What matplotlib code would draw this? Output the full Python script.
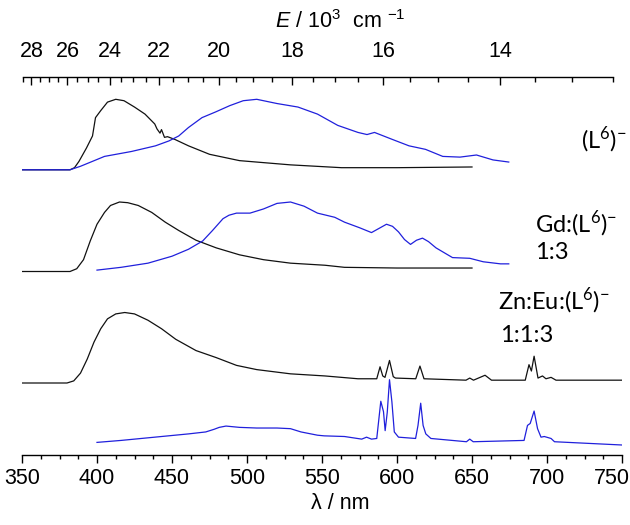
import matplotlib
matplotlib.use('Agg')
import matplotlib.pyplot as plt
import numpy as np

plt.rcParams['font.family'] = ['Liberation Sans', 'DejaVu Sans']
plt.rcParams['mathtext.fontset'] = 'custom'
plt.rcParams['mathtext.rm'] = 'Liberation Sans'
plt.rcParams['mathtext.it'] = 'Liberation Sans:italic'

# --- spectra (wavelength in nm, normalised intensity) ---
# (L6)- : black / blue
wl_l6_k = [350, 382, 385, 388, 393, 397, 399, 402.5, 407, 412.5, 418, 425, 432, 438.5,
           440, 442, 443, 445, 447, 452, 461, 475, 495, 529, 563, 600, 650]
in_l6_k = [0, 0, 0.03, 0.12, 0.31, 0.48, 0.74, 0.84, 0.96, 1.0, 0.98, 0.89, 0.79, 0.65,
           0.58, 0.52, 0.57, 0.46, 0.47, 0.43, 0.34, 0.22, 0.13, 0.07, 0.03, 0.03, 0.04]

wl_l6_b = [350, 382, 389, 405, 423, 439, 448, 454.5, 461, 470, 479, 488.5, 497.5,
           506.5, 520, 534, 547, 560.5, 574, 580, 585, 597, 608, 619, 630.5, 642,
           653, 664, 674.5]
in_l6_b = [0, 0, 0.05, 0.19, 0.26, 0.34, 0.41, 0.48, 0.60, 0.74, 0.82, 0.91, 0.98,
           1.0, 0.94, 0.89, 0.79, 0.63, 0.53, 0.50, 0.53, 0.43, 0.34, 0.29, 0.19,
           0.18, 0.21, 0.14, 0.11]

# Gd:(L6)- 1:3
wl_gd_k = [350, 382, 386.5, 391, 395.5, 400, 405, 409, 415, 420.5, 427.5, 436.5,
           445.5, 454.5, 466, 479.5, 495, 511, 529, 552, 565, 600, 650]
in_gd_k = [0, 0, 0.04, 0.17, 0.44, 0.68, 0.85, 0.95, 1.0, 0.99, 0.95, 0.85, 0.71,
           0.59, 0.45, 0.34, 0.24, 0.17, 0.12, 0.09, 0.06, 0.05, 0.05]

wl_gd_b = [400, 416, 434, 450, 461, 470.5, 477, 484, 488, 493, 502, 511, 520, 529, 538,
           547, 558.5, 565, 575, 583, 588, 593, 597, 601, 605, 609, 613, 617, 621, 626,
           637, 648.5, 657.5, 669, 674.5]
in_gd_b = [0.02, 0.06, 0.12, 0.22, 0.32, 0.44, 0.59, 0.76, 0.81, 0.84, 0.84, 0.90, 0.98,
           1.0, 0.94, 0.84, 0.78, 0.71, 0.63, 0.56, 0.62, 0.68, 0.65, 0.57, 0.46, 0.39,
           0.45, 0.48, 0.43, 0.34, 0.20, 0.19, 0.14, 0.11, 0.11]

# Zn:Eu:(L6)- 1:1:3
wl_zn_k = [350, 380, 384.5, 389, 393.5, 398, 402.5, 407, 412.5, 418.5, 425, 434,
           443, 452.5, 466, 479.5, 493, 506.5, 529, 552, 574, 586.5, 588.7, 590.5,
           592, 595, 597.5, 599, 612.5, 615.3, 618, 646, 648.5, 651, 658.7, 663,
           685.5, 688, 689.6, 691.4, 694, 697, 699.3, 702.7, 706, 750]
in_zn_k = [0, 0, 0.03, 0.14, 0.34, 0.58, 0.77, 0.91, 0.98, 1.0, 0.98, 0.89,
           0.77, 0.62, 0.46, 0.36, 0.25, 0.19, 0.13, 0.10, 0.06, 0.06, 0.23, 0.10,
           0.08, 0.32, 0.09, 0.07, 0.06, 0.24, 0.06, 0.04, 0.07, 0.04, 0.11, 0.04,
           0.04, 0.26, 0.17, 0.38, 0.07, 0.10, 0.06, 0.08, 0.04, 0.04]

wl_zn_b = [400, 416, 438.5, 447.5, 461, 472.5, 478, 481.5, 486, 495, 506.5, 520, 529,
           536, 547, 551.5, 565, 576.5, 579.7, 583, 586.5, 589.2, 591, 592.1, 593.5,
           595, 596.6, 598.2, 601, 612.4, 614, 615.8, 617.4, 619.2, 622.6, 646.3,
           648.5, 650.8, 684.7, 687, 688.8, 691.4, 693.7, 696, 698.2, 702.7, 705, 750]
in_zn_b = [0.04, 0.07, 0.12, 0.14, 0.17, 0.20, 0.24, 0.27, 0.29, 0.27, 0.26, 0.26, 0.25,
           0.20, 0.15, 0.14, 0.13, 0.09, 0.12, 0.09, 0.10, 0.67, 0.51, 0.22, 0.50,
           1.0, 0.66, 0.20, 0.12, 0.10, 0.30, 0.64, 0.30, 0.17, 0.10, 0.05,
           0.09, 0.05, 0.07, 0.30, 0.33, 0.52, 0.25, 0.12, 0.13, 0.10, 0.05, 0.0]

wl_ticks = [350, 400, 450, 500, 550, 600, 650, 700, 750]
e_major = [28, 26, 24, 22, 20, 18, 16, 14]
label_lines = [r'(L$^{\mathregular{6}}$)$^{\mathregular{-}}$',
               r'Gd:(L$^{\mathregular{6}}$)$^{\mathregular{-}}$', '1:3',
               r'Zn:Eu:(L$^{\mathregular{6}}$)$^{\mathregular{-}}$', '1:1:3']

black = '#111111'
blue = '#2020dc'

fig = plt.figure(figsize=(6.3, 5.25), dpi=100)
ax = fig.add_axes([22 / 630, 70 / 525, 600 / 630, 378 / 525])

# stacked traces: (x, y, baseline, scale, colour)
traces = [
    (wl_l6_k, in_l6_k, 285.2, 70.5, black),
    (wl_l6_b, in_l6_b, 285.2, 70.5, blue),
    (wl_gd_k, in_gd_k, 183.5, 69.5, black),
    (wl_gd_b, in_gd_b, 183.5, 69.5, blue),
    (wl_zn_k, in_zn_k, 72.0, 70.5, black),
    (wl_zn_b, in_zn_b, 10.0, 65.3, blue),
]
for x, y, base, sc, col in traces:
    ax.plot(x, base + sc * np.asarray(y), color=col, lw=0.9)

ax.set_xlim(350, 750)
ax.set_ylim(0, 378)
for s in ['top', 'left', 'right']:
    ax.spines[s].set_visible(False)
ax.spines['bottom'].set_linewidth(1.0)
ax.set_yticks([])
ax.set_xticks(wl_ticks)
# last label is drawn separately so it stays inside the picture
ax.set_xticklabels([str(w) for w in wl_ticks[:-1]] + [''])
ax.set_xticks(np.arange(350, 751, 12.5), minor=True)
ax.tick_params(axis='x', which='major', direction='out', length=6, width=1.0,
               labelsize=15.5, pad=3)
ax.tick_params(axis='x', which='minor', direction='out', length=3, width=1.0)
ax.annotate(str(wl_ticks[-1]), xy=(1, 0), xycoords='axes fraction',
            xytext=(5.5, -9), textcoords='offset points', ha='right', va='top',
            fontsize=15.5)
ax.set_xlabel('λ / nm', fontsize=15.5)
ax.xaxis.set_label_coords(0.53, -0.1)

# energy axis on top
top = ax.twiny()
top.set_xlim(350, 807)
top.set_xticks([1e4 / e for e in e_major])
top.set_xticklabels([str(e) for e in e_major])
top.set_xticks([1e4 / e for e in np.arange(28.5, 12.4, -0.5)], minor=True)
for s in ['bottom', 'left', 'right']:
    top.spines[s].set_visible(False)
top.spines['top'].set_bounds(1e4 / 28.5, 1e4 / 12.5)
top.spines['top'].set_linewidth(1.0)
top.tick_params(axis='x', which='major', direction='in', length=6, width=1.0,
                labelsize=15.5, pad=11)
top.tick_params(axis='x', which='minor', direction='in', length=3.5, width=1.0)
top.set_xlabel(r'$\mathit{E}$ / 10$^{3}$  cm $^{-1}$', fontsize=15.5)
top.xaxis.set_label_coords(0.53, 1.13)

# sample labels (x in nm, y in plot units)
label_x = [722.7, 692, 692, 667.5, 668.5]
label_y = [315, 231, 203, 154, 120]
for t, lx, ly in zip(label_lines, label_x, label_y):
    ax.text(lx, ly, t, fontsize=17, family='Lato', va='center')

fig.savefig('out.png', dpi=100)
